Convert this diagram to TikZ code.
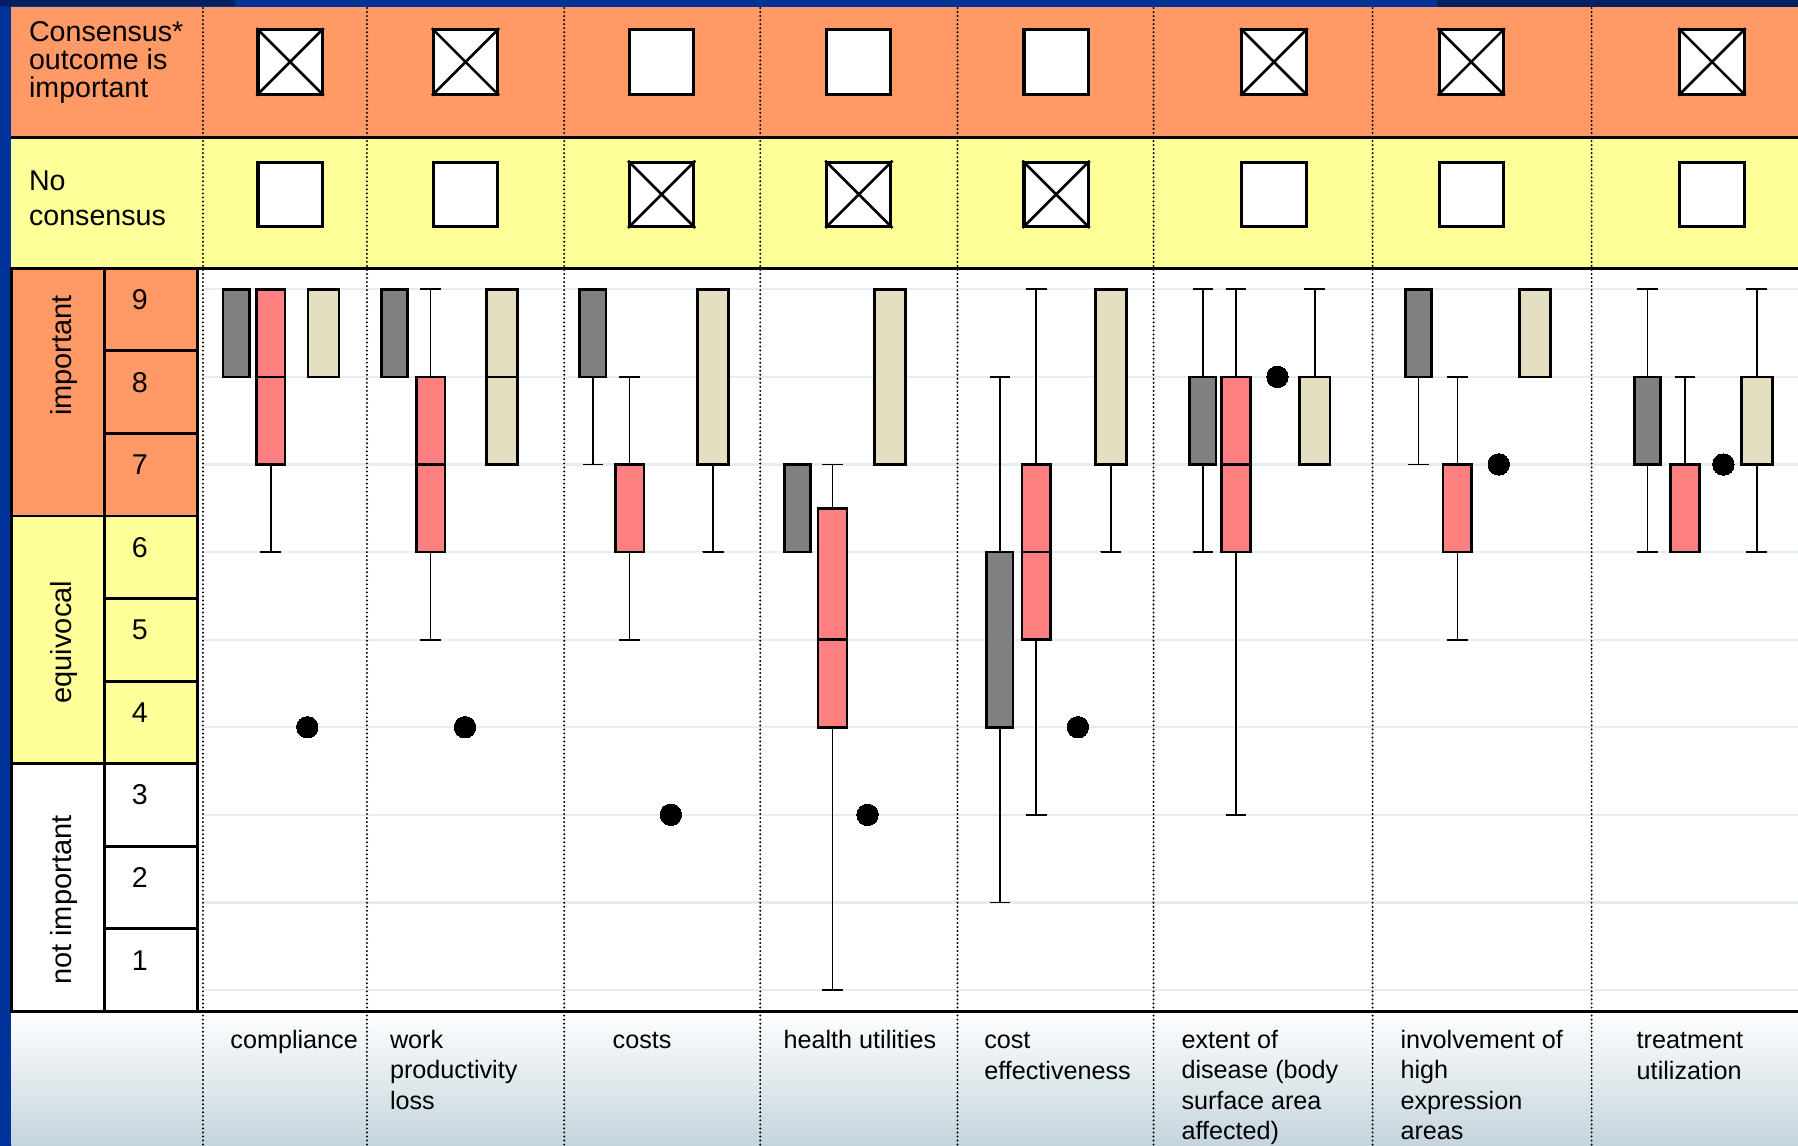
\documentclass[tikz,border=0pt]{standalone}
\usepackage{fontspec}
\setmainfont{Liberation Sans}

\definecolor{slideblue}{RGB}{0,51,153}
\definecolor{slidenavy}{RGB}{0,32,96}
\definecolor{hdrorange}{RGB}{255,153,102}
\definecolor{hdryellow}{RGB}{255,255,153}
\definecolor{boxgray}{RGB}{128,128,128}
\definecolor{boxred}{RGB}{255,128,128}
\definecolor{boxbeige}{RGB}{228,223,192}
\definecolor{gridcol}{RGB}{230,237,240}
\definecolor{labelbg}{RGB}{196,213,221}

% score -> y
\newcommand{\gy}[1]{252.3+(9-#1)*76.4}
% x, half width, colour, low, q1, median, q3, high
\newcommand{\rbox}[8]{%
  \draw[whisker] (#1,{\gy{#4}}) -- (#1,{\gy{#8}});
  \draw[whisker] ({#1-9},{\gy{#4}}) -- ({#1+9},{\gy{#4}});
  \draw[whisker] ({#1-9},{\gy{#8}}) -- ({#1+9},{\gy{#8}});
  \draw[boxline,fill=#3] ({#1-#2},{\gy{#5}}) rectangle ({#1+#2},{\gy{#7}});
  \draw[boxline] ({#1-#2},{\gy{#6}}) -- ({#1+#2},{\gy{#6}});
}

\begin{document}
\begin{tikzpicture}[x=0.2mm, y=-0.2mm,
  rule/.style={line width=1.7pt},
  cellline/.style={line width=1.4pt},
  sep/.style={line width=1.1pt, dash pattern=on 0pt off 2pt, line cap=round},
  gridln/.style={gridcol, line width=1.1pt},
  whisker/.style={line width=0.9pt},
  boxline/.style={line width=1.3pt},
  chk/.style={draw, fill=white, line width=1.5pt, minimum width=11.2mm,
    minimum height=11.2mm, inner sep=0pt},
  xmark/.style={line width=1.3pt},
  hdr/.style={font=\fontsize{14.2}{13.9}\selectfont, align=left,
    inner sep=0pt, anchor=north west},
  num/.style={font=\fontsize{14.2}{16}\selectfont, anchor=base, inner sep=0pt},
  grp/.style={font=\fontsize{14.4}{16}\selectfont, rotate=90, inner sep=0pt},
  lbl/.style={font=\fontsize{12.5}{15.1}\selectfont, align=left,
    inner sep=0pt, anchor=north west, execute at begin node=\vphantom{l}}]
  \useasboundingbox (0,0) rectangle (1568,999);

  % slide background
  \fill[slideblue] (0,0) rectangle (1568,999);
  \fill[slidenavy] (0,0) rectangle (205,5);
  \fill[slidenavy] (1253,0) rectangle (1568,7);

  % rows
  \fill[hdrorange] (10,6) rectangle (1568,120);
  \fill[hdryellow] (10,120) rectangle (1568,234);
  \fill[white] (10,234) rectangle (1568,882);
  \shade[top color=white, bottom color=labelbg] (10,882) rectangle (1568,999);
  \fill[hdrorange] (10,234) rectangle (172,450);
  \fill[hdryellow] (10,450) rectangle (172,666);

  \foreach \v in {1,...,9}
    \draw[gridln] (177,{\gy{\v}}) -- (1568,{\gy{\v}});

  \foreach \sx in {177,320,492,663,835,1006,1197,1388}
    \draw[sep] (\sx,7) -- (\sx,999);

  \draw[rule] (10,120) -- (1568,120);
  \draw[rule] (10,234) -- (1568,234);
  \draw[rule] (10,882) -- (1568,882);

  % scale column
  \draw[cellline] (10,234) rectangle (172,882);
  \draw[cellline] (91,234) -- (91,882);
  \draw[cellline] (10,450) -- (172,450) (10,666) -- (172,666);
  \foreach \ly in {306,378,522,594,738,810}
    \draw[cellline] (91,\ly) -- (172,\ly);
  \foreach \n in {1,...,9}
    \node[num] (score\n) at (122,{234+72*(9-\n)+36}) {\n};
  \node[grp] (imp) at (56,310) {important};
  \node[grp] (equiv) at (56,560) {equivocal};
  \node[grp] (notimp) at (56,785) {not important};

  \node[hdr] (consensus) at (25,18) {Consensus*\\outcome is\\important};
  \node[hdr, font=\fontsize{14.2}{17}\selectfont] (nocons) at (25,149) {No\\consensus};

  % check boxes
  \foreach \cx [count=\i] in {253,406,577,749,921,1111,1283,1493} {
    \node[chk] (top\i) at (\cx,54) {};
    \node[chk] (low\i) at (\cx,169.5) {};
  }
  \foreach \i in {1,2,6,7,8}
    \draw[xmark] (top\i.north west) -- (top\i.south east)
                 (top\i.south west) -- (top\i.north east);
  \foreach \i in {3,4,5}
    \draw[xmark] (low\i.north west) -- (low\i.south east)
                 (low\i.south west) -- (low\i.north east);

  % box plots
  \foreach \px/\lo/\qa/\md/\qb/\hi in {206/8/8/9/9/9, 344/8/8/9/9/9,
      517/7/8/9/9/9, 695.5/6/6/6/7/7, 872/2/4/4/6/8, 1049/6/7/7/8/9,
      1237/7/8/8/9/9, 1436.7/6/7/7/8/9}
    \rbox{\px}{11.5}{boxgray}{\lo}{\qa}{\md}{\qb}{\hi}
  \foreach \px/\lo/\qa/\md/\qb/\hi in {236/6/7/8/9/9, 375.5/5/6/7/8/9,
      549/5/6/6/7/8, 726/1/4/5/6.5/7, 903.7/3/5/6/7/9, 1078/3/6/7/8/9,
      1271/5/6/6/7/8, 1469.5/6/6/6/7/8}
    \rbox{\px}{12.5}{boxred}{\lo}{\qa}{\md}{\qb}{\hi}
  \foreach \px/\lo/\qa/\md/\qb/\hi in {282/8/8/9/9/9, 438/7/7/8/9/9,
      622/6/7/7/9/9, 776/7/7/7/9/9, 969/6/7/7/9/9, 1146.5/7/7/7/8/9,
      1338.5/8/8/8/9/9, 1532/6/7/7/8/9}
    \rbox{\px}{13.5}{boxbeige}{\lo}{\qa}{\md}{\qb}{\hi}
  \foreach \px/\v in {268/4, 405.5/4, 585/3, 756.6/3, 940/4, 1114/8,
      1307/7, 1503/7}
    \fill (\px,{\gy{\v}}) circle[radius=1.85mm];

  % outcome labels
  \node[lbl] (compl) at (200.6,898) {compliance};
  \node[lbl] (work) at (339.8,898) {work\\productivity\\loss};
  \node[lbl] (costs) at (534,898) {costs};
  \node[lbl] (health) at (683,898) {health utilities};
  \node[lbl] (costeff) at (858,900) {cost\\effectiveness};
  \node[lbl] (extent) at (1030,898) {extent of\\disease (body\\surface area\\affected)};
  \node[lbl] (involve) at (1221,898) {involvement of\\high\\expression\\areas};
  \node[lbl] (treat) at (1427,900) {treatment\\utilization};
\end{tikzpicture}
\end{document}
